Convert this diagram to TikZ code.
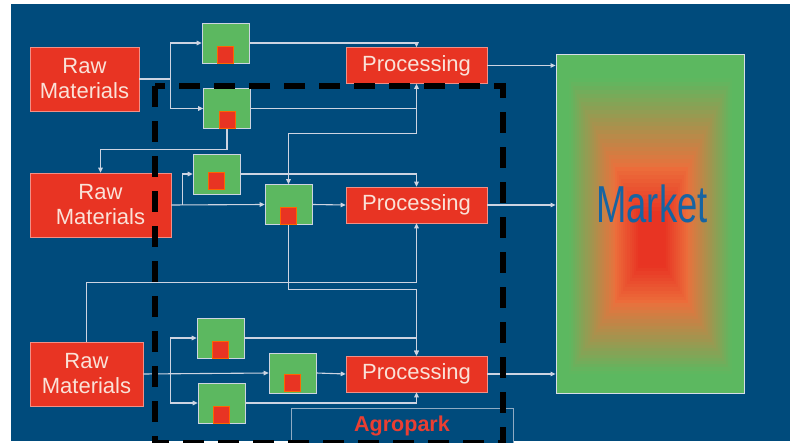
\documentclass[tikz,border=0pt]{standalone}
\usepackage{fontspec}
\setmainfont{Liberation Sans}
\usepackage{graphicx}
\usetikzlibrary{positioning, arrows.meta}

\definecolor{bgblue}{RGB}{0,75,124}
\definecolor{boxred}{RGB}{232,52,35}
\definecolor{boxgreen}{RGB}{92,184,96}
\definecolor{mkorange}{RGB}{236,112,60}
\definecolor{paletext}{RGB}{250,226,216}
\definecolor{linegrey}{RGB}{205,212,226}
\definecolor{marketblue}{RGB}{22,100,162}
\definecolor{agrored}{RGB}{234,62,50}

\begin{document}
\begin{tikzpicture}[x=1pt, y=-1pt]
\tikzstyle{raw}=[rectangle, fill=boxred, draw=boxred!55!white, line width=0.6pt, text=paletext, align=center, inner sep=0pt, font=\fontsize{22}{25}\selectfont]
\tikzstyle{proc}=[raw, minimum width=141pt, minimum height=36pt]
\tikzstyle{unit}=[rectangle, fill=boxgreen, draw=linegrey, line width=0.6pt, minimum width=47pt, minimum height=40pt, inner sep=0pt]
\tikzstyle{seed}=[rectangle, fill=boxred, draw=orange!80!red, line width=0.6pt, minimum width=16pt, minimum height=17pt, inner sep=0pt]
\tikzstyle{connect}=[-{Triangle[length=5pt, width=4.5pt]}, line width=1.1pt, draw=linegrey]
\tikzstyle{agro}=[draw=black, line width=6pt, dash pattern=on 21pt off 14pt]
    \useasboundingbox (0,0) rectangle (790,443);
    \fill[bgblue] (11,4) rectangle (790,441);

    \node[raw, minimum width=109pt, minimum height=64pt] (RM1) at (84.5,79) {Raw\\Materials};
    \node[raw, minimum width=141pt, minimum height=64pt] (RM2) at (100.5,205) {Raw\\Materials};
    \node[raw, minimum width=113pt, minimum height=64pt] (RM3) at (86.5,374) {Raw\\Materials};

    \node[proc] (P1) at (416.5,65.5) {Processing};
    \node[proc] (P2) at (416.5,205) {Processing};
    \node[proc] (P3) at (416.5,374) {Processing};

    \node[unit] (G1) at (225.5,43) {};
    \node[unit] (G2) at (227,108.5) {};
    \node[unit] (G3) at (216.5,174) {};
    \node[unit] (G4) at (288.5,204.5) {};
    \node[unit] (G5) at (220.5,338) {};
    \node[unit] (G6) at (292.5,373) {};
    \node[unit] (G7) at (221.5,403) {};
    \foreach \g/\s in {G1/0pt, G2/0pt, G3/5pt, G4/0pt, G5/0pt, G6/2pt, G7/0pt}
        \node[seed, above=\s of \g.south, anchor=south] (\g r) {};

    \foreach \i in {0,...,40} {
        \pgfmathsetmacro\t{\i/40}
        \pgfmathsetmacro\p{max(0,min(100,100*(\t-0.14)/0.56))}
        \pgfmathsetmacro\q{max(0,min(100,100*(\t-0.68)/0.3))}
        \fill[boxred!\q!mkorange!\p!boxgreen] ({556+84*\t},{54+161*\t}) rectangle ({744-80*\t},{393-128*\t});
    }
    \node[rectangle, draw=linegrey!80, line width=0.8pt, minimum width=188pt, minimum height=339pt] (M) at (650,223.5) {};
    \node[text=marketblue, font=\fontsize{52}{52}\selectfont, inner sep=0pt] (Mtext) at ([xshift=2pt, yshift=20pt]M.center) {\scalebox{0.7}[1]{Market}};

    \coordinate (b1) at ([xshift=31pt]RM1.east);
    \coordinate (b2) at ([xshift=11pt]RM2.east);
    \coordinate (b3) at ([xshift=27pt]RM3.east);
    \coordinate (j1) at (G2.east -| P1.south);

    \draw[connect] (RM1.east) -- (b1) |- (G1.west);
    \draw[connect] (b1) |- (G2.west);
    \draw[connect] (G1.east) -| (P1.north);
    \draw[connect] (G2.east) -| (P1.south);
    \draw[connect] (j1) -- ++(0,25) -| (G4.north);
    \draw[connect] (G2.south) -- ++(0,21) -| (RM2.north);

    \draw[connect] (RM2.east) -- (G4.west);
    \draw[connect] (b2) |- (G3.west);
    \draw[connect] (G3.east) -| (P2.north);
    \draw[connect] (G4.east) -- (P2.west);
    \draw[connect] (G4.south) -- ++(0,65) -| (P3.north);
    \draw[connect] (RM3.north) -- ++(0,-59) -| (P2.south);

    \draw[connect] (RM3.east) -- (G6.west);
    \draw[connect] (b3) |- (G5.west);
    \draw[connect] (b3) |- (G7.west);
    \draw[connect] (G5.east) -| (P3.north);
    \draw[connect] (G6.east) -- (P3.west);
    \draw[connect] (G7.east) -| (P3.south);

    \draw[connect] (P1.east) -- (P1.east -| M.west);
    \draw[connect] (P2.east) -- (P2.east -| M.west);
    \draw[connect] (P3.east) -- (P3.east -| M.west);

    \node[rectangle, fill=bgblue, draw=linegrey!70!bgblue, line width=0.8pt, minimum width=222pt, minimum height=36pt, text=agrored, font=\fontsize{21.5}{22}\selectfont\bfseries] (AP) at (402,426) {Agropark};
    \draw[agro] (155,86) rectangle (503,443);
\end{tikzpicture}
\end{document}
